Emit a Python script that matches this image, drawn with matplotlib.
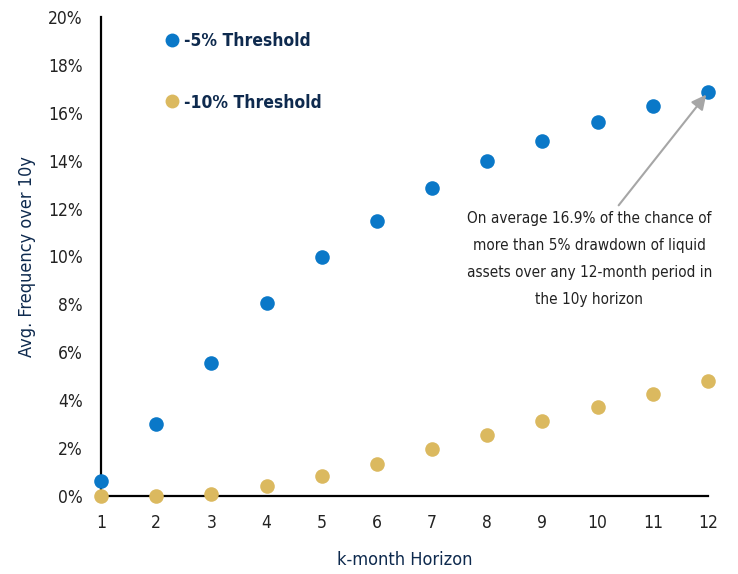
import matplotlib
matplotlib.use("Agg")
import matplotlib.pyplot as plt
from matplotlib.ticker import FuncFormatter
from matplotlib.lines import Line2D

plt.rcParams['font.family'] = ['DejaVu Sans']
plt.rcParams['font.stretch'] = 'condensed'

# data
horizon = [1, 2, 3, 4, 5, 6, 7, 8, 9, 10, 11, 12]
freq_5 = [0.63, 3.0, 5.55, 8.06, 9.98, 11.48, 12.86, 13.99, 14.82, 15.6, 16.28, 16.85]
freq_10 = [0.0, 0.02, 0.1, 0.4, 0.85, 1.35, 1.97, 2.55, 3.13, 3.73, 4.26, 4.79]
y_ticks = [0, 2, 4, 6, 8, 10, 12, 14, 16, 18, 20]

blue = '#0a78c8'
gold = '#dbb95f'
navy = '#0e2a4e'

fig = plt.figure(figsize=(7.38, 5.74), dpi=100)
ax = fig.add_axes([0.1369, 0.1359, 0.8224, 0.8345])

ax.scatter(horizon, freq_5, s=110, color=blue, zorder=3, clip_on=False, linewidths=0)
ax.scatter(horizon, freq_10, s=110, color=gold, zorder=3, clip_on=False, linewidths=0)

ax.set_xlim(1, 12)
ax.set_ylim(0, 20)
ax.set_xticks(horizon)
ax.set_yticks(y_ticks)
ax.yaxis.set_major_formatter(FuncFormatter(lambda v, p: f"{v:.0f}%"))
ax.tick_params(length=0, labelsize=12.5, pad=13, colors='#222222')
ax.tick_params(axis='y', pad=13)

for s in ['top', 'right']:
    ax.spines[s].set_visible(False)
for s in ['left', 'bottom']:
    ax.spines[s].set_linewidth(1.6)
    ax.spines[s].set_color('black')

ax.set_xlabel('k-month Horizon', fontsize=13, color=navy, labelpad=14)
ax.set_ylabel('Avg. Frequency over 10y', fontsize=13, color=navy, labelpad=9)

# legend
handles = [
    Line2D([], [], marker='o', linestyle='', markersize=10, color=blue, markeredgewidth=0),
    Line2D([], [], marker='o', linestyle='', markersize=10, color=gold, markeredgewidth=0),
]
leg = ax.legend(handles, ['-5% Threshold', '-10% Threshold'], loc='upper left',
                bbox_to_anchor=(0.074, 1.001), frameon=False, labelspacing=2.5,
                handletextpad=0.1, handlelength=1.2,
                prop={'size': 12.5, 'weight': 'bold'})
for t in leg.get_texts():
    t.set_color(navy)

# annotation
ax.annotate('On average 16.9% of the chance of\nmore than 5% drawdown of liquid\n'
            'assets over any 12-month period in\nthe 10y horizon',
            xy=(horizon[-1], freq_5[-1]), xytext=(9.85, 9.88),
            ha='center', va='center', fontsize=11, linespacing=2.0, color='#222222',
            arrowprops=dict(arrowstyle='-|>', color='#a6a6a6', lw=1.5,
                            mutation_scale=22, shrinkA=3, shrinkB=2,
                            relpos=(0.6, 1.0)))

fig.savefig('out.png', dpi=100)
